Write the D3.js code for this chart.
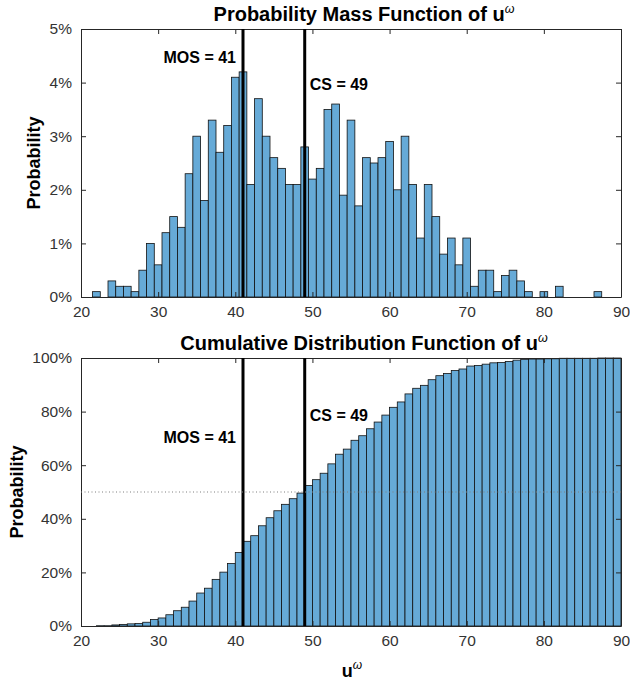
<!DOCTYPE html>
<html>
<head>
<meta charset="utf-8">
<script src="https://cdn.jsdelivr.net/npm/d3@7"></script>
<style>
  body { margin: 0; background: #fff; }
  text { font-family: Arial, "Liberation Sans", Helvetica, sans-serif; }
</style>
</head>
<body>
<div id="chart"></div>
<script>
// bin centres of the PMF histogram (width 1)
var pmfBins = [22, 23, 24, 25, 26, 27, 28, 29, 30, 31, 32, 33, 34, 35, 36, 37, 38, 39, 40, 41,
	42, 43, 44, 45, 46, 47, 48, 49, 50, 51, 52, 53, 54, 55, 56, 57, 58, 59, 60, 61,
	62, 63, 64, 65, 66, 67, 68, 69, 70, 71, 72, 73, 74, 75, 76, 77, 78, 79, 80, 81,
	82, 83, 84, 85, 86, 87];
// probability in %
var pmfValues = [0.1, 0, 0.3, 0.2, 0.2, 0.1, 0.5, 1.0, 0.6, 1.2, 1.5, 1.3, 2.3, 3.0, 1.8, 3.3, 2.7, 3.2, 4.1, 4.2,
	2.1, 3.7, 3.0, 2.6, 2.4, 2.1, 2.1, 2.8, 2.2, 2.4, 3.5, 3.6, 1.9, 3.3, 1.7, 2.6, 2.5, 2.6, 2.9, 2.0,
	3.0, 2.1, 1.1, 2.1, 1.5, 0.8, 1.1, 0.6, 1.1, 0.2, 0.5, 0.5, 0.1, 0.4, 0.5, 0.3, 0.1, 0, 0.1, 0,
	0.2, 0, 0, 0, 0, 0.1];

// left edges of the CDF bars (each bar spans [edge, edge + 1])
var cdfEdges = [22, 23, 24, 25, 26, 27, 28, 29, 30, 31, 32, 33, 34, 35, 36, 37, 38, 39, 40, 41,
	42, 43, 44, 45, 46, 47, 48, 49, 50, 51, 52, 53, 54, 55, 56, 57, 58, 59, 60, 61,
	62, 63, 64, 65, 66, 67, 68, 69, 70, 71, 72, 73, 74, 75, 76, 77, 78, 79, 80, 81,
	82, 83, 84, 85, 86, 87, 88, 89];
var cdfValues = [0.1, 0.1, 0.4, 0.6, 0.8, 0.9, 1.4, 2.4, 3.0, 4.2, 5.7, 7.0, 9.3, 12.3, 14.1, 17.4, 20.1, 23.3, 27.4, 31.6,
	33.7, 37.4, 40.4, 43.0, 45.4, 47.5, 49.6, 52.4, 54.6, 57.0, 60.5, 64.1, 66.0, 69.3, 71.0, 73.6, 76.1, 78.7, 81.6, 83.6,
	86.6, 88.7, 89.8, 91.9, 93.4, 94.2, 95.3, 95.9, 97.0, 97.2, 97.7, 98.2, 98.3, 98.7, 99.2, 99.5, 99.6, 99.6, 99.7, 99.7,
	99.9, 99.9, 99.9, 99.9, 99.9, 100, 100, 100];

var xTicks = [20, 30, 40, 50, 60, 70, 80, 90];
var pmfTicks = [0, 1, 2, 3, 4, 5];
var cdfTicks = [0, 20, 40, 60, 80, 100];
var mos = 41, cs = 49;

var W = 630, H = 682;
var left = 81, right = 621;
var barFill = "#66aad7";
var axisColor = "#262626";

var svg = d3.select("#chart")
	.append("svg")
		.attr("width", W)
		.attr("height", H)
		.attr("viewBox", [0, 0, W, H]);

var x = d3.scaleLinear().domain([20, 90]).range([left, right]);

function drawPanel(top, bottom, yMax, yTicks, bars, title, yLabelX, labels) {
	var y = d3.scaleLinear().domain([0, yMax]).range([bottom, top]);
	var g = svg.append("g");

	g.selectAll(".bar")
		.data(bars.filter(d => d.v > 0))
		.join("rect")
		.attr("class", "bar")
		.attr("x", d => x(d.x0))
		.attr("width", d => x(d.x1) - x(d.x0))
		.attr("y", d => y(d.v))
		.attr("height", d => y(0) - y(d.v))
		.attr("fill", barFill)
		.attr("stroke", "#111")
		.attr("stroke-width", 0.8);

	// inward ticks on all four sides (box on)
	var xb = d3.axisBottom(x).tickValues(xTicks).tickSizeInner(-5).tickSizeOuter(0).tickPadding(9);
	var xt = d3.axisTop(x).tickValues(xTicks).tickSizeInner(-5).tickSizeOuter(0).tickFormat("");
	var yl = d3.axisLeft(y).tickValues(yTicks).tickSizeInner(-5).tickSizeOuter(0).tickPadding(9).tickFormat(d => d + "%");
	var yr = d3.axisRight(y).tickValues(yTicks).tickSizeInner(-5).tickSizeOuter(0).tickFormat("");

	[[xb, "translate(0," + bottom + ")"], [xt, "translate(0," + top + ")"],
	 [yl, "translate(" + left + ",0)"], [yr, "translate(" + right + ",0)"]].forEach(function(a) {
		var ax = g.append("g").attr("transform", a[1]).call(a[0]);
		ax.select(".domain").attr("stroke", axisColor);
		ax.selectAll(".tick line").attr("stroke", axisColor);
		ax.selectAll(".tick text")
			.attr("fill", "#333")
			.style("font-size", "15.5px")
			.style("font-family", "Arial, 'Liberation Sans', sans-serif");
	});

	// MOS and CS markers
	[mos, cs].forEach(function(v) {
		g.append("line")
			.attr("x1", x(v)).attr("x2", x(v))
			.attr("y1", top).attr("y2", bottom)
			.attr("stroke", "#000")
			.attr("stroke-width", 3);
	});

	g.append("text")
		.attr("x", x(mos) - 7)
		.attr("y", labels[0])
		.attr("text-anchor", "end")
		.style("font-size", "16px")
		.style("font-weight", "bold")
		.text("MOS = " + mos);

	g.append("text")
		.attr("x", x(cs) + 5)
		.attr("y", labels[1])
		.style("font-size", "16px")
		.style("font-weight", "bold")
		.text("CS = " + cs);

	// title
	var t = g.append("text")
		.attr("x", 364)
		.attr("y", top - 8)
		.attr("text-anchor", "middle")
		.style("font-size", "20px")
		.style("font-weight", "bold");
	t.append("tspan").text(title + " u");
	t.append("tspan")
		.attr("dy", -8)
		.style("font-size", "12.5px")
		.style("font-weight", "normal")
		.style("font-style", "italic")
		.text("\u03c9");

	// y label
	g.append("text")
		.attr("transform", "translate(" + yLabelX + "," + ((top + bottom) / 2) + ") rotate(-90)")
		.attr("text-anchor", "middle")
		.style("font-size", "18px")
		.style("font-weight", "bold")
		.text("Probability");

	return y;
}

var pmfBars = pmfBins.map((c, i) => ({x0: c - 0.5, x1: c + 0.5, v: pmfValues[i]}));
var cdfBars = cdfEdges.map((e, i) => ({x0: e, x1: e + 1, v: cdfValues[i]}));

drawPanel(29, 297, 5, pmfTicks, pmfBars, "Probability Mass Function of", 40, [63, 90]);
var yc = drawPanel(358, 626, 100, cdfTicks, cdfBars, "Cumulative Distribution Function of", 23, [443, 421]);

// 50% reference line
svg.append("line")
	.attr("x1", left).attr("x2", right)
	.attr("y1", yc(50)).attr("y2", yc(50))
	.attr("stroke", "#7f7f7f")
	.attr("stroke-width", 1)
	.attr("stroke-dasharray", "1,2.5");

// x label
var xl = svg.append("text")
	.attr("x", 352)
	.attr("y", 677)
	.attr("text-anchor", "middle")
	.style("font-size", "18px")
	.style("font-weight", "bold");
xl.append("tspan").text("u");
xl.append("tspan")
	.attr("dy", -8)
	.style("font-size", "12px")
	.style("font-weight", "normal")
	.style("font-style", "italic")
	.text("\u03c9");
</script>
</body>
</html>
